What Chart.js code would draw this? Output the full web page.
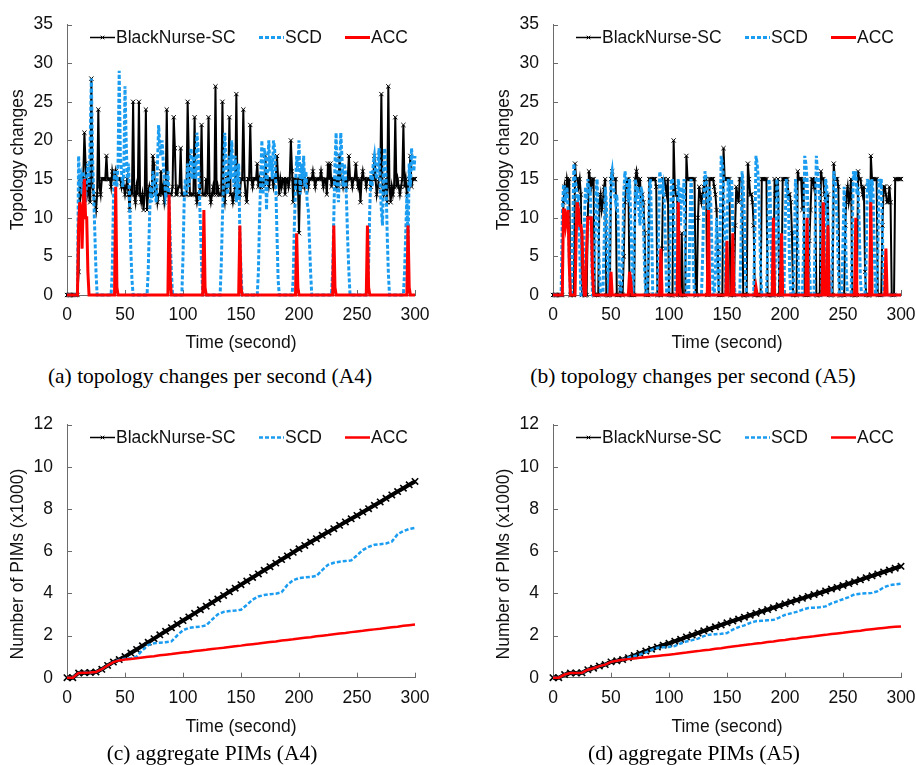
<!DOCTYPE html>
<html>
<head>
<meta charset="utf-8">
<title>Topology changes and aggregate PIMs</title>
<script src="https://cdn.jsdelivr.net/npm/chart.js@4.4.1/dist/chart.umd.min.js"></script>
<style>
  html, body { margin: 0; padding: 0; background: #fff; }
  body { width: 916px; height: 765px; position: relative; overflow: hidden; }
  .panel { position: absolute; }
  .caption {
    position: absolute; width: 420px; text-align: center;
    font-family: "Liberation Serif", "DejaVu Serif", serif;
    font-size: 21.5px; line-height: 1; color: #000; white-space: nowrap;
  }
</style>
</head>
<body>
<div class="panel" style="left:0;top:0"><canvas id="chartA" width="440" height="360"></canvas></div>
<div class="panel" style="left:486px;top:0"><canvas id="chartB" width="440" height="360"></canvas></div>
<div class="panel" style="left:0;top:400px"><canvas id="chartC" width="440" height="360"></canvas></div>
<div class="panel" style="left:486px;top:400px"><canvas id="chartD" width="440" height="360"></canvas></div>
<div class="caption" style="left:0;top:366px">(a) topology changes per second (A4)</div>
<div class="caption" style="left:483px;top:366px">(b) topology changes per second (A5)</div>
<div class="caption" style="left:2px;top:743px">(c) aggregate PIMs (A4)</div>
<div class="caption" style="left:484px;top:743px">(d) aggregate PIMs (A5)</div>

<script>
// ---- data ----
const seriesNames = ['BlackNurse-SC', 'SCD', 'ACC'];
const timeTicks = [0, 50, 100, 150, 200, 250, 300];
const topologyTicks = [0, 5, 10, 15, 20, 25, 30, 35];
const pimTicks = [0, 2, 4, 6, 8, 10, 12];

// one sample per second, 0..300
const seconds = Array.from({ length: 301 }, (_, i) => i);
// one sample every 5 seconds, 0..300
const fiveSeconds = Array.from({ length: 61 }, (_, i) => i * 5);

// topology changes per second, A4
const blackNurseA4 = [
  0,0,0,0,0,0,0,0,0,0, 3,15,13,14,15,21,17,14,13,15,
  12,28,14,13,12,11,13,24,14,13, 15,15,15,15,18,15,15,15,14,16,
  15,15,16,15,15,15,15,14,15,14, 13,14,15,13,11,14,13,25,13,12,
  14,13,25,13,12,13,11,13,24,11, 13,14,13,13,18,17,13,14,12,13,
  13,16,13,14,12,13,24,13,13,13, 13,14,23,19,13,13,14,14,19,13,
  13,13,13,13,25,18,13,13,13,13, 23,13,12,13,13,14,22,13,13,13,
  15,13,23,13,12,13,14,13,27,13, 14,13,13,13,25,13,12,14,15,14,
  23,13,13,12,13,14,26,13,14,13, 15,15,24,15,13,12,15,15,22,15,
  14,15,15,15,17,14,15,14,15,15, 14,18,15,15,14,15,15,15,14,15,
  15,18,15,13,15,14,15,15,13,15, 15,14,15,20,16,12,15,15,14,15,
  8,15,14,15,15,14,15,15,14,15, 15,15,16,15,14,15,15,15,15,16,
  15,14,15,15,13,17,15,17,14,15, 15,15,14,15,14,18,15,15,14,15,
  15,14,15,18,15,15,14,15,15,17, 15,14,15,12,15,16,15,15,14,15,
  15,15,14,15,15,18,15,13,14,15, 15,26,14,13,14,15,12,27,14,12,
  14,13,14,23,14,15,14,13,14,15, 22,14,15,13,14,15,18,14,15,15,
  15
];
const scdA4 = [
  0,0,0,0,0,0,0,0,0,0, 18,14,15,13,16,14,12,15,17,14,
  20,28,18,13,8,3,0,0,0,0, 0,0,0,0,0,0,0,0,0,3,
  12,16,15,14,17,29,18,16,14,16, 27,20,15,17,12,6,2,0,0,0,
  0,0,0,0,0,0,0,0,0,0, 3,9,14,12,16,15,13,12,17,22,
  19,18,20,17,15,13,14,16,12,7, 3,0,0,0,0,0,0,0,0,0,
  5,12,15,13,17,14,16,19,15,18, 17,15,21,19,14,9,4,0,0,0,
  0,0,0,0,0,0,0,0,0,0, 0,0,0,4,10,15,21,17,13,14,
  18,15,20,16,14,18,12,15,17,8, 3,0,0,0,0,0,0,0,0,0,
  0,0,0,0,0,3,10,15,20,13, 19,18,11,17,20,16,18,15,20,19,
  14,8,2,0,0,0,0,0,0,0, 0,0,0,0,0,2,9,14,18,16,
  20,13,17,15,18,14,16,12,11,7, 3,0,0,0,0,0,0,0,0,0,
  0,0,0,0,0,0,0,0,0,3, 10,17,21,14,12,16,21,18,14,17,
  16,12,7,3,0,0,0,0,0,0, 0,0,0,0,0,0,0,0,0,0,
  4,11,16,14,17,18,16,15,17,19, 14,11,9,17,19,15,8,3,0,0,
  0,0,0,0,0,0,0,0,0,0, 0,3,8,13,6,17,14,19,17,16,
  18
];
const accA4 = [
  0,0,0,0,0,0,0,0,0,0, 9,12,11,6,12,15,10,10,3,0,
  0,0,0,0,0,0,0,0,0,0, 0,0,0,0,0,0,0,0,0,0,
  0,0,14,1,0,0,0,0,0,0, 0,0,0,0,0,0,0,0,0,0,
  0,0,0,0,0,0,0,0,0,0, 0,0,0,0,0,0,0,0,0,0,
  0,0,0,0,0,0,0,0,13,2, 0,0,0,0,0,0,0,0,0,0,
  0,0,0,0,0,0,0,0,0,0, 0,0,0,0,0,0,0,0,11,1,
  0,0,0,0,0,0,0,0,0,0, 0,0,0,0,0,0,0,0,0,0,
  0,0,0,0,0,0,0,0,0,9, 1,0,0,0,0,0,0,0,0,0,
  0,0,0,0,0,0,0,0,0,0, 0,0,0,0,0,0,0,0,0,0,
  0,0,0,0,0,0,0,0,0,0, 0,0,0,0,0,0,0,0,8,1,
  0,0,0,0,0,0,0,0,0,0, 0,0,0,0,0,0,0,0,0,0,
  0,0,0,0,0,0,0,0,0,0, 9,1,0,0,0,0,0,0,0,0,
  0,0,0,0,0,0,0,0,0,0, 0,0,0,0,0,0,0,0,0,9,
  1,0,0,0,0,0,0,0,0,0, 0,0,0,0,0,0,0,0,0,0,
  0,0,0,0,0,0,0,0,0,0, 0,0,0,0,9,1,0,0,0,0,
  0
];

// topology changes per second, A5
const blackNurseA5 = [
  0,0,0,0,0,0,0,0,0,12, 14,13,15,14,15,0,0,0,0,17,
  15,15,14,15,13,0,3,0,0,0, 10,16,15,14,15,15,0,0,0,0,
  12,13,11,12,14,15,0,0,0,0, 15,16,15,15,15,0,0,0,1,0,
  0,5,12,14,15,15,0,0,0,0, 0,15,16,15,14,15,12,13,12,8,
  0,0,0,15,15,15,15,15,15,14, 0,0,0,0,6,15,15,14,13,15,
  0,0,0,0,20,14,13,13,0,0, 0,8,0,0,0,18,15,15,15,15,
  15,15,15,0,0,10,14,13,12,13, 14,15,15,0,0,15,15,15,15,14,
  13,11,6,0,0,0,0,19,15,15, 15,15,15,0,0,0,0,9,14,13,
  12,15,15,15,0,0,0,0,17,15, 13,13,12,9,0,0,0,0,0,0,
  15,15,15,15,15,0,0,0,0,0, 0,15,13,14,15,0,0,0,15,15,
  15,15,15,13,13,12,8,0,0,0, 0,16,15,15,15,11,15,0,0,0,
  0,7,11,15,15,14,15,0,0,0, 0,16,15,15,13,12,11,13,0,0,
  0,0,17,15,15,15,14,0,0,0, 0,0,9,13,14,12,13,15,0,0,
  0,0,0,16,15,15,14,13,14,3, 0,0,0,0,18,15,15,15,15,15,
  0,0,0,0,9,14,14,13,12,12, 14,12,0,0,0,15,15,15,15,15,
  15
];
const scdA5 = [
  0,0,0,0,0,0,0,0,10,14, 14,12,14,11,5,0,0,8,17,15,
  14,12,13,6,0,0,0,9,14,12, 15,13,14,8,0,0,5,13,15,9,
  3,0,0,0,6,14,12,4,0,7, 15,16,14,13,12,13,10,4,0,1,
  5,13,16,15,14,12,15,10,4,0, 6,15,13,14,11,9,14,13,9,3,
  0,0,4,14,15,9,0,0,0,0, 0,8,16,15,13,14,12,6,0,0,
  0,8,15,15,11,4,0,6,15,13, 9,14,12,15,6,0,0,0,9,15,
  12,3,0,0,0,0,0,0,0,5, 12,16,15,13,10,14,12,6,0,0,
  3,10,4,0,7,18,17,15,6,0, 8,15,14,12,15,9,2,0,0,0,
  0,0,6,16,14,10,2,0,0,0, 0,0,0,0,8,18,17,15,10,3,
  0,0,0,0,0,5,15,14,8,0, 0,0,6,15,13,4,0,0,0,0,
  8,15,14,12,3,0,0,0,5,15, 13,7,0,0,0,0,6,18,17,15,
  10,4,0,0,0,0,8,18,16,15, 12,6,0,0,4,15,14,8,2,0,
  0,6,16,15,13,9,3,0,0,0, 7,14,10,2,0,0,0,0,8,16,
  15,16,13,14,9,2,0,0,0,0, 5,15,14,15,12,15,13,6,0,0,
  5,15,14,15,8,0,0,0,0,0, 0,0,0,0,0,0,0,0,0,0,
  0
];
const accA5 = [
  0,0,0,0,0,0,0,0,0,11, 11,9,10,11,4,0,0,0,0,0,
  8,12,11,9,9,8,2,0,0,6, 10,10,10,10,3,0,0,0,0,0,
  0,0,0,0,0,0,0,0,0,0, 3,0,0,0,0,0,0,0,0,0,
  0,0,0,0,0,0,3,2,0,0, 0,0,0,0,0,0,0,0,0,0,
  0,0,0,0,0,0,0,0,0,0, 0,0,0,6,0,0,0,0,0,0,
  0,0,0,0,0,0,0,0,12,1, 0,0,0,0,0,0,0,0,0,0,
  0,0,0,0,0,0,0,0,0,0, 0,0,0,0,11,0,0,0,0,0,
  0,0,0,0,0,0,0,0,0,0, 7,0,0,0,0,8,0,0,0,0,
  0,0,0,0,0,0,0,0,0,0, 0,0,0,0,0,1,0,0,0,0,
  0,0,0,0,0,0,0,0,0,0, 10,0,0,0,0,0,0,8,0,0,
  0,0,0,0,0,0,0,0,0,0, 0,0,0,0,0,0,0,0,0,10,
  0,0,0,0,0,0,0,0,0,0, 0,0,0,12,0,0,0,9,0,0,
  0,0,0,0,0,0,0,0,0,0, 0,0,0,0,0,0,0,0,0,0,
  0,10,0,0,0,0,0,0,0,0, 0,0,0,0,12,0,0,0,0,0,
  0,0,0,0,0,0,0,6,0,0, 0,0,0,0,0,0,0,0,0,0,
  0
];

// aggregate PIMs (x1000), every 5 seconds
const blackNursePimA4 = [
  0,0,0.22,0.24,0.25,0.27,0.40,0.58,0.74,0.86,
  1.00,1.17,1.34,1.51,1.68,1.85,2.03,2.20,2.37,2.54,
  2.71,2.88,3.05,3.22,3.39,3.56,3.73,3.90,4.07,4.24,
  4.41,4.58,4.75,4.92,5.09,5.26,5.43,5.60,5.77,5.94,
  6.11,6.27,6.43,6.59,6.75,6.90,7.06,7.22,7.38,7.53,
  7.69,7.85,8.01,8.17,8.33,8.50,8.66,8.82,8.98,9.14,
  9.30
];
const scdPimA4 = [
  0,0,0.22,0.24,0.25,0.27,0.40,0.58,0.74,0.84,
  0.90,0.92,1.00,1.30,1.55,1.63,1.66,1.68,1.72,2.00,
  2.25,2.36,2.40,2.42,2.48,2.75,3.00,3.12,3.16,3.18,
  3.22,3.45,3.70,3.85,3.92,3.96,3.98,4.05,4.40,4.62,
  4.72,4.75,4.78,4.82,5.10,5.35,5.45,5.50,5.53,5.56,
  5.80,6.05,6.20,6.30,6.33,6.36,6.45,6.80,6.95,7.05,
  7.10
];
const accPimA4 = [
  0,0,0.22,0.24,0.25,0.27,0.40,0.58,0.74,0.82,
  0.86,0.89,0.92,0.96,0.99,1.02,1.06,1.09,1.12,1.16,
  1.19,1.22,1.26,1.29,1.32,1.36,1.39,1.42,1.46,1.49,
  1.52,1.56,1.59,1.62,1.66,1.69,1.72,1.76,1.79,1.82,
  1.86,1.89,1.92,1.96,1.99,2.02,2.06,2.09,2.12,2.16,
  2.19,2.22,2.26,2.29,2.32,2.36,2.39,2.42,2.46,2.49,
  2.52
];
const blackNursePimA5 = [
  0,0,0.15,0.22,0.22,0.23,0.38,0.45,0.55,0.62,
  0.75,0.80,0.86,0.95,1.05,1.15,1.26,1.35,1.45,1.54,
  1.63,1.73,1.82,1.93,2.02,2.12,2.22,2.31,2.41,2.50,
  2.60,2.69,2.78,2.87,2.96,3.05,3.14,3.23,3.32,3.41,
  3.50,3.59,3.68,3.76,3.85,3.94,4.02,4.11,4.20,4.28,
  4.37,4.46,4.55,4.64,4.74,4.83,4.92,5.01,5.10,5.19,
  5.28
];
const scdPimA5 = [
  0,0,0.15,0.22,0.22,0.23,0.38,0.45,0.55,0.62,
  0.75,0.80,0.86,0.95,1.02,1.10,1.20,1.32,1.42,1.44,
  1.46,1.50,1.62,1.72,1.78,1.85,1.97,2.04,2.06,2.08,
  2.12,2.28,2.40,2.48,2.60,2.68,2.70,2.72,2.74,2.85,
  2.98,3.05,3.12,3.22,3.30,3.32,3.34,3.38,3.52,3.62,
  3.72,3.82,3.95,3.98,4.00,4.02,4.10,4.28,4.38,4.42,
  4.45
];
const accPimA5 = [
  0,0,0.15,0.22,0.22,0.23,0.38,0.45,0.55,0.62,
  0.75,0.80,0.85,0.88,0.91,0.94,0.97,1.00,1.03,1.06,
  1.09,1.12,1.16,1.19,1.23,1.26,1.30,1.33,1.37,1.40,
  1.44,1.48,1.51,1.55,1.58,1.62,1.65,1.69,1.72,1.76,
  1.79,1.83,1.86,1.90,1.93,1.96,2.00,2.03,2.07,2.10,
  2.13,2.17,2.20,2.23,2.27,2.30,2.33,2.36,2.39,2.41,
  2.43
];

// ---- styling ----
const FONT = '"Liberation Sans", Arial, sans-serif';
const FONT_SIZE = 17.5;
const AXIS_COLOR = '#6b6b6b';
const BLUE = '#1a9cf0';
const RED = '#ff0000';

Chart.defaults.font.family = FONT;
Chart.defaults.font.size = FONT_SIZE;
Chart.defaults.color = '#111';

// short tick marks pointing into the plot
const innerTicks = {
  id: 'innerTicks',
  beforeDatasetsDraw(chart) {
    const { ctx, chartArea, scales } = chart;
    ctx.save();
    ctx.strokeStyle = AXIS_COLOR;
    ctx.lineWidth = 1;
    ctx.beginPath();
    scales.x.ticks.forEach(t => {
      const px = Math.round(scales.x.getPixelForValue(t.value)) + 0.5;
      ctx.moveTo(px, chartArea.bottom);
      ctx.lineTo(px, chartArea.bottom - 5);
    });
    scales.y.ticks.forEach(t => {
      const py = Math.round(scales.y.getPixelForValue(t.value)) + 0.5;
      ctx.moveTo(chartArea.left, py);
      ctx.lineTo(chartArea.left + 5, py);
    });
    ctx.stroke();
    ctx.restore();
  }
};

// rotated y title, shifted a little along the axis like the original
const sideTitle = {
  id: 'sideTitle',
  afterDraw(chart, args, opts) {
    const { ctx, chartArea } = chart;
    ctx.save();
    ctx.translate(18.5, (chartArea.top + chartArea.bottom) / 2 + opts.shift);
    ctx.rotate(-Math.PI / 2);
    ctx.fillStyle = '#111';
    ctx.font = FONT_SIZE + 'px ' + FONT;
    ctx.textAlign = 'center';
    ctx.textBaseline = 'middle';
    ctx.fillText(opts.text, 0, 0);
    ctx.restore();
  }
};

// legend drawn inside the top of the plot area
const insideLegend = {
  id: 'insideLegend',
  afterDatasetsDraw(chart) {
    const { ctx, chartArea } = chart;
    const slots = [23, 192, 278];
    const y = chartArea.top + 13;
    ctx.save();
    chart.data.datasets.forEach((ds, i) => {
      const x0 = chartArea.left + slots[i];
      ctx.beginPath();
      ctx.strokeStyle = ds.borderColor;
      ctx.lineWidth = ds.legendWidth || ds.borderWidth;
      ctx.setLineDash(ds.borderDash || []);
      ctx.moveTo(x0, y);
      ctx.lineTo(x0 + 25, y);
      ctx.stroke();
      ctx.setLineDash([]);
      if (ds.pointRadius > 0) {
        ctx.strokeStyle = '#000';
        ctx.fillStyle = '#fff';
        ctx.lineWidth = 1;
        Chart.helpers.drawPoint(ctx, { pointStyle: 'crossRot', radius: 2.5, borderWidth: 1 }, x0 + 12.5, y);
      }
      ctx.fillStyle = '#111';
      ctx.font = FONT_SIZE + 'px ' + FONT;
      ctx.textBaseline = 'middle';
      ctx.textAlign = 'left';
      ctx.fillText(ds.label, x0 + 26, y + 1);
    });
    ctx.restore();
  }
};

function makePanel(id, opts) {
  const black = {
    label: seriesNames[0],
    data: opts.black,
    borderColor: '#000',
    borderWidth: opts.blackWidth,
    legendWidth: 1.5,
    pointStyle: 'crossRot',
    pointRadius: opts.markerSize,
    pointBorderColor: '#000',
    pointBorderWidth: opts.markerWidth,
    pointBackgroundColor: '#fff',
    order: 3
  };
  const scd = {
    label: seriesNames[1],
    data: opts.scd,
    borderColor: BLUE,
    borderWidth: opts.scdWidth,
    borderDash: [4, 2],
    pointRadius: 0,
    order: 2
  };
  const acc = {
    label: seriesNames[2],
    data: opts.acc,
    borderColor: RED,
    borderWidth: opts.accWidth,
    pointRadius: 0,
    order: 1
  };

  return new Chart(document.getElementById(id), {
    type: 'line',
    data: { labels: opts.times, datasets: [black, scd, acc] },
    options: {
      responsive: false,
      animation: false,
      events: [],
      clip: false,
      layout: { padding: { top: opts.padTop, right: 25, bottom: opts.padBottom, left: 0 } },
      plugins: {
        legend: { display: false },
        tooltip: { enabled: false },
        sideTitle: { text: opts.yTitle, shift: opts.titleShift }
      },
      scales: {
        x: {
          type: 'linear',
          min: 0,
          max: 300,
          afterBuildTicks: scale => { scale.ticks = timeTicks.map(v => ({ value: v })); },
          afterFit: scale => { scale.height = opts.xHeight; },
          ticks: { padding: 10, maxRotation: 0, color: '#111' },
          grid: { display: true, drawOnChartArea: false, drawTicks: false },
          border: { display: true, color: AXIS_COLOR, width: 1 },
          title: { display: true, text: 'Time (second)', color: '#111', padding: { top: 0, bottom: 4 } }
        },
        y: {
          min: 0,
          max: opts.yTicks[opts.yTicks.length - 1],
          afterBuildTicks: scale => { scale.ticks = opts.yTicks.map(v => ({ value: v })); },
          afterFit: scale => { scale.width = 67; },
          ticks: { padding: 14, color: '#111' },
          grid: { display: true, drawOnChartArea: false, drawTicks: false },
          border: { display: true, color: AXIS_COLOR, width: 1 }
        }
      }
    },
    plugins: [innerTicks, insideLegend, sideTitle]
  });
}

const topPanel = {
  times: seconds,
  yTicks: topologyTicks,
  yTitle: 'Topology changes',
  titleShift: 0,
  padTop: 16,
  padBottom: 2.5,
  xHeight: 62.5,
  blackWidth: 2,
  markerSize: 3,
  markerWidth: 1,
  scdWidth: 3,
  accWidth: 3
};
const bottomPanel = {
  times: fiveSeconds,
  yTicks: pimTicks,
  yTitle: 'Number of PIMs (x1000)',
  titleShift: 13,
  padTop: 22.7,
  padBottom: 18.3,
  xHeight: 64,
  blackWidth: 4,
  markerSize: 4.5,
  markerWidth: 1.6,
  scdWidth: 2.5,
  accWidth: 2.5
};

makePanel('chartA', { ...topPanel, black: blackNurseA4, scd: scdA4, acc: accA4 });
makePanel('chartB', { ...topPanel, black: blackNurseA5, scd: scdA5, acc: accA5 });
makePanel('chartC', { ...bottomPanel, black: blackNursePimA4, scd: scdPimA4, acc: accPimA4 });
makePanel('chartD', { ...bottomPanel, black: blackNursePimA5, scd: scdPimA5, acc: accPimA5 });
</script>
</body>
</html>
